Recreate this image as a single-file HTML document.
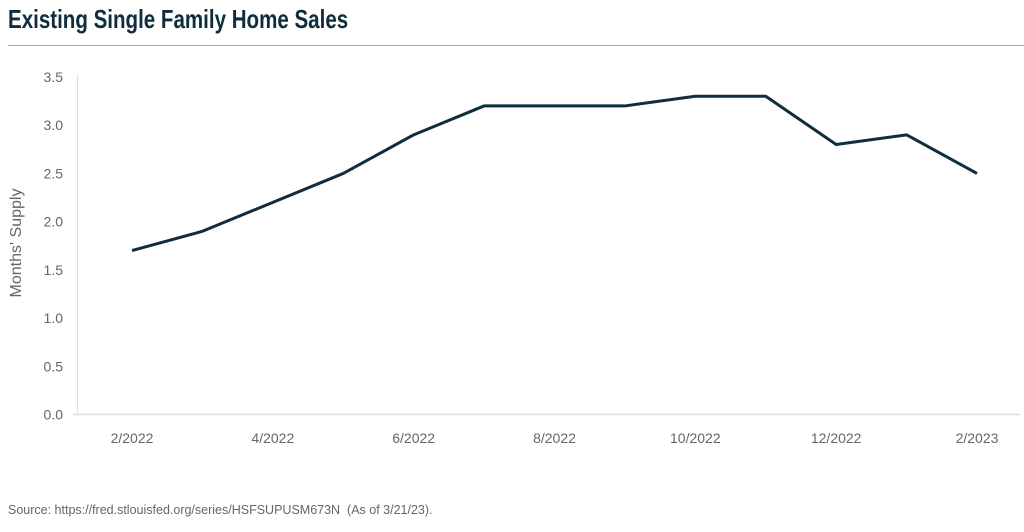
<!DOCTYPE html>
<html><head><meta charset="utf-8"><style>
body{margin:0;background:#fff;width:1024px;height:532px;overflow:hidden;font-family:"Liberation Sans",sans-serif}
#title{position:absolute;left:8px;top:4px;font-size:26px;font-weight:bold;color:#0f2d3c;transform:scaleX(0.79);transform-origin:left top;white-space:nowrap}
#rule{position:absolute;left:8px;top:45px;width:1016px;height:1px;background:#b5ada4}
#src{position:absolute;left:8px;top:503px;font-size:12.5px;color:#6b6460}
svg{position:absolute;left:0;top:0}
</style></head><body>
<div id="title">Existing Single Family Home Sales</div>
<div id="rule"></div>
<svg id="chart" width="1024" height="532"></svg>
<div id="src">Source: https://fred.stlouisfed.org/series/HSFSUPUSM673N&nbsp; (As of 3/21/23).</div>
<script>
const months = ["2/2022","3/2022","4/2022","5/2022","6/2022","7/2022","8/2022","9/2022","10/2022","11/2022","12/2022","1/2023","2/2023"];
const supply = [1.7,1.9,2.2,2.5,2.9,3.2,3.2,3.2,3.3,3.3,2.8,2.9,2.5];
const yTicks = [0,0.5,1.0,1.5,2.0,2.5,3.0,3.5];
const xLabelIdx = [0,2,4,6,8,10,12];
const NS="http://www.w3.org/2000/svg";
const svg=document.getElementById('chart');
const x0=132,x1=977,yb=414.5,yt=77,ymax=3.5;
const X=i=>x0+(x1-x0)*i/(months.length-1);
const Y=v=>yb-(yb-yt)*v/ymax;
function mk(t,a){const e=document.createElementNS(NS,t);for(const k in a)e.setAttribute(k,a[k]);svg.appendChild(e);return e;}
let e=mk('line',{x1:77.5,y1:75,x2:77.5,y2:yb,stroke:'#e0dcd8'});

e=mk('line',{x1:73,y1:yb,x2:1020,y2:yb,stroke:'#e0dcd8','stroke-width':1.5});

yTicks.forEach(v=>{const t=mk('text',{x:63,y:Y(v)+5,'text-anchor':'end','font-size':14,fill:'#6b6460'});t.textContent=v.toFixed(1);
});
xLabelIdx.forEach(i=>{const t=mk('text',{x:X(i),y:443,'text-anchor':'middle','font-size':14,fill:'#6b6460'});t.textContent=months[i];
});
const yt2=mk('text',{x:0,y:0,'text-anchor':'middle','font-size':16,fill:'#6b6460',transform:'translate(21,243) rotate(-90)'});yt2.textContent="Months' Supply";

const p=mk('polyline',{points:supply.map((v,i)=>X(i)+','+Y(v)).join(' '),fill:'none',stroke:'#0f2d3c','stroke-width':3,'stroke-linejoin':'round'});

</script>
</body></html>
